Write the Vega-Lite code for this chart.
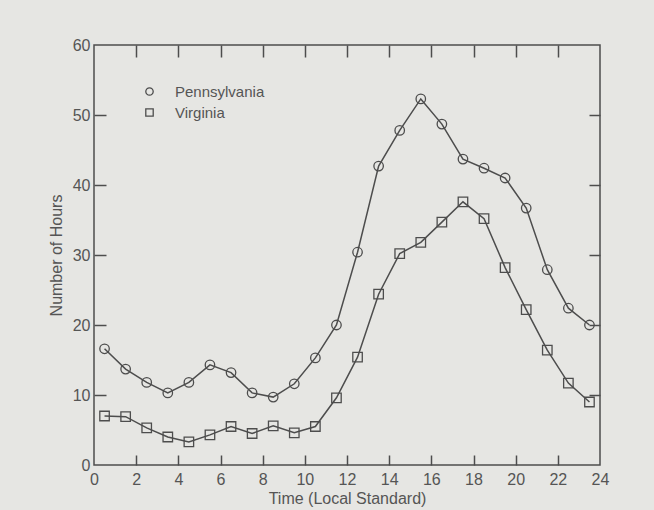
{
  "$schema": "https://vega.github.io/schema/vega-lite/v6.json",
  "width": 506,
  "height": 420,
  "autosize": "none",
  "padding": {"left": 94, "top": 45, "right": 54, "bottom": 45},
  "background": "#e6e6e3",
  "config": {
    "view": {"stroke": "#4d4d4d", "strokeWidth": 1.5},
    "font": "Liberation Sans",
    "axis": {
      "domain": false,
      "grid": false,
      "tickColor": "#4d4d4d",
      "tickWidth": 1.5,
      "labelColor": "#555555",
      "labelFontSize": 16,
      "labelFont": "Liberation Sans",
      "titleColor": "#555555",
      "titleFontSize": 16,
      "titleFontWeight": "normal",
      "titleFont": "Liberation Sans"
    }
  },
  "data": {
    "values": [
      {"hour": 0.5, "hours": 16.6, "state": "Pennsylvania"},
      {"hour": 1.5, "hours": 13.7, "state": "Pennsylvania"},
      {"hour": 2.5, "hours": 11.8, "state": "Pennsylvania"},
      {"hour": 3.5, "hours": 10.3, "state": "Pennsylvania"},
      {"hour": 4.5, "hours": 11.8, "state": "Pennsylvania"},
      {"hour": 5.5, "hours": 14.3, "state": "Pennsylvania"},
      {"hour": 6.5, "hours": 13.2, "state": "Pennsylvania"},
      {"hour": 7.5, "hours": 10.3, "state": "Pennsylvania"},
      {"hour": 8.5, "hours": 9.7, "state": "Pennsylvania"},
      {"hour": 9.5, "hours": 11.6, "state": "Pennsylvania"},
      {"hour": 10.5, "hours": 15.3, "state": "Pennsylvania"},
      {"hour": 11.5, "hours": 20.0, "state": "Pennsylvania"},
      {"hour": 12.5, "hours": 30.4, "state": "Pennsylvania"},
      {"hour": 13.5, "hours": 42.7, "state": "Pennsylvania"},
      {"hour": 14.5, "hours": 47.8, "state": "Pennsylvania"},
      {"hour": 15.5, "hours": 52.3, "state": "Pennsylvania"},
      {"hour": 16.5, "hours": 48.7, "state": "Pennsylvania"},
      {"hour": 17.5, "hours": 43.7, "state": "Pennsylvania"},
      {"hour": 18.5, "hours": 42.4, "state": "Pennsylvania"},
      {"hour": 19.5, "hours": 41.0, "state": "Pennsylvania"},
      {"hour": 20.5, "hours": 36.7, "state": "Pennsylvania"},
      {"hour": 21.5, "hours": 27.9, "state": "Pennsylvania"},
      {"hour": 22.5, "hours": 22.4, "state": "Pennsylvania"},
      {"hour": 23.5, "hours": 20.0, "state": "Pennsylvania"},
      {"hour": 0.5, "hours": 7.0, "state": "Virginia"},
      {"hour": 1.5, "hours": 6.9, "state": "Virginia"},
      {"hour": 2.5, "hours": 5.3, "state": "Virginia"},
      {"hour": 3.5, "hours": 4.0, "state": "Virginia"},
      {"hour": 4.5, "hours": 3.3, "state": "Virginia"},
      {"hour": 5.5, "hours": 4.3, "state": "Virginia"},
      {"hour": 6.5, "hours": 5.5, "state": "Virginia"},
      {"hour": 7.5, "hours": 4.5, "state": "Virginia"},
      {"hour": 8.5, "hours": 5.6, "state": "Virginia"},
      {"hour": 9.5, "hours": 4.6, "state": "Virginia"},
      {"hour": 10.5, "hours": 5.5, "state": "Virginia"},
      {"hour": 11.5, "hours": 9.6, "state": "Virginia"},
      {"hour": 12.5, "hours": 15.4, "state": "Virginia"},
      {"hour": 13.5, "hours": 24.4, "state": "Virginia"},
      {"hour": 14.5, "hours": 30.2, "state": "Virginia"},
      {"hour": 15.5, "hours": 31.8, "state": "Virginia"},
      {"hour": 16.5, "hours": 34.7, "state": "Virginia"},
      {"hour": 17.5, "hours": 37.6, "state": "Virginia"},
      {"hour": 18.5, "hours": 35.2, "state": "Virginia"},
      {"hour": 19.5, "hours": 28.2, "state": "Virginia"},
      {"hour": 20.5, "hours": 22.2, "state": "Virginia"},
      {"hour": 21.5, "hours": 16.4, "state": "Virginia"},
      {"hour": 22.5, "hours": 11.7, "state": "Virginia"},
      {"hour": 23.5, "hours": 9.0, "state": "Virginia"}
    ]
  },
  "layer": [
    {
      "mark": {"type": "line", "color": "#4d4d4d", "strokeWidth": 1.5},
      "encoding": {
        "x": {
          "field": "hour", "type": "quantitative",
          "scale": {"domain": [0, 24], "nice": false, "zero": false},
          "axis": {
            "orient": "bottom",
            "values": [0, 2, 4, 6, 8, 10, 12, 14, 16, 18, 20, 22, 24],
            "ticks": false,
            "labelPadding": 6,
            "labelFlush": false,
            "labelOverlap": false,
            "title": "Time (Local Standard)",
            "titlePadding": 3
          }
        },
        "y": {
          "field": "hours", "type": "quantitative",
          "scale": {"domain": [0, 60], "nice": false},
          "axis": {
            "orient": "left",
            "values": [0, 10, 20, 30, 40, 50, 60],
            "ticks": false,
            "labelPadding": 4,
            "labelFlush": false,
            "labelOverlap": false,
            "title": "Number of Hours",
            "titlePadding": 8
          }
        },
        "detail": {"field": "state"}
      }
    },
    {
      "mark": {"type": "point", "filled": false, "color": "#4d4d4d", "size": 90, "strokeWidth": 1.3, "opacity": 1},
      "encoding": {
        "x": {
          "field": "hour", "type": "quantitative",
          "axis": {
            "orient": "top",
            "offset": -420,
            "values": [2, 4, 6, 8, 10, 12, 14, 16, 18, 20, 22],
            "tickSize": 10,
            "labels": false,
            "title": null
          }
        },
        "y": {
          "field": "hours", "type": "quantitative",
          "axis": {
            "orient": "right",
            "offset": -506,
            "values": [10, 20, 30, 40, 50],
            "tickSize": 12,
            "labels": false,
            "title": null
          }
        },
        "shape": {
          "field": "state", "type": "nominal",
          "scale": {"domain": ["Pennsylvania", "Virginia"], "range": ["circle", "square"]},
          "legend": {
            "orient": "none",
            "legendX": 48,
            "legendY": 39,
            "title": null,
            "padding": 0,
            "symbolSize": 55,
            "symbolStrokeWidth": 1.3,
            "symbolStrokeColor": "#4d4d4d",
            "symbolFillColor": "transparent",
            "labelFontSize": 15,
            "labelColor": "#555555",
            "labelFont": "Liberation Sans",
            "labelOffset": 18,
            "rowPadding": 5
          }
        }
      }
    },
    {
      "mark": {"type": "point", "opacity": 0},
      "encoding": {
        "x": {
          "field": "hour", "type": "quantitative",
          "axis": {
            "orient": "bottom",
            "offset": -420,
            "values": [2, 4, 6, 8, 10, 12, 14, 16, 18, 20, 22],
            "tickSize": 12,
            "labels": false,
            "title": null
          }
        },
        "y": {
          "field": "hours", "type": "quantitative",
          "axis": {
            "orient": "left",
            "offset": -506,
            "values": [10, 20, 30, 40, 50],
            "tickSize": 11,
            "labels": false,
            "title": null
          }
        }
      }
    }
  ],
  "resolve": {"axis": {"x": "independent", "y": "independent"}}
}
